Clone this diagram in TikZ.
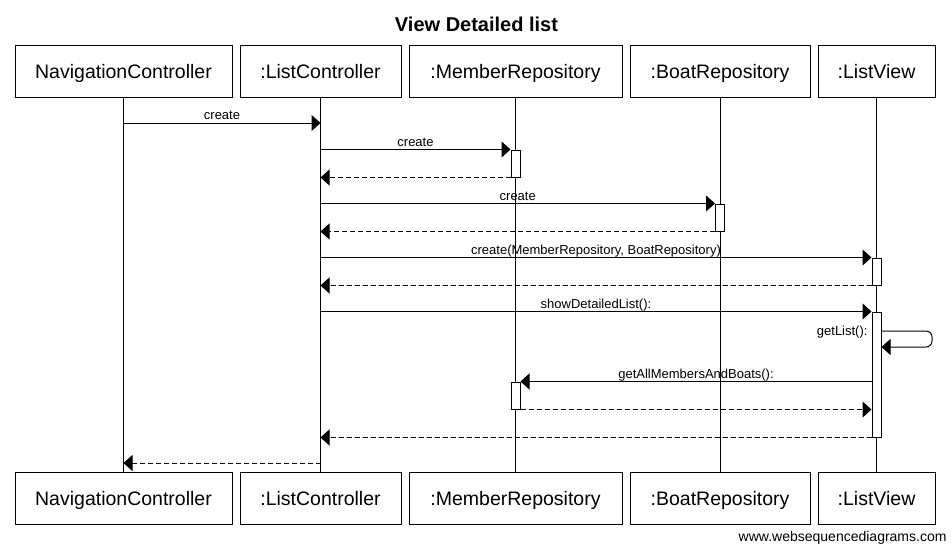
\documentclass[tikz,border=0pt]{standalone}
\usepackage{fontspec}
\setmainfont{Liberation Sans}
\usetikzlibrary{arrows.meta}

\begin{document}
\begin{tikzpicture}[x=1pt, y=-1pt, line width=1pt,
  actor/.style={draw, minimum height=52pt, inner sep=0pt, text height=14pt, text depth=0pt, font=\fontsize{19.5}{23}\selectfont},
  act/.style={draw, fill=white, minimum width=9pt, inner sep=0pt},
  msg/.style={-{Triangle[length=9pt, width=16pt]}},
  ret/.style={msg, dash pattern=on 5pt off 3pt},
  lbl/.style={above, inner xsep=2pt, inner ysep=3pt, text depth=0pt, font=\fontsize{13}{15}\selectfont}]
\useasboundingbox (0,0) rectangle (952,547);
\node[font=\bfseries\fontsize{20}{24}\selectfont] (title) at (476.5,24.5) {View Detailed list};
% participants, top and bottom
\node[actor, minimum width=217pt] (navT) at (123.5,71) {NavigationController};
\node[actor, minimum width=161pt] (listT) at (320.5,71) {:ListController};
\node[actor, minimum width=213pt] (memT) at (515.5,71) {:MemberRepository};
\node[actor, minimum width=180pt] (boatT) at (720,71) {:BoatRepository};
\node[actor, minimum width=117pt] (viewT) at (876.5,71) {:ListView};
\node[actor, minimum width=217pt] (navB) at (123.5,498) {NavigationController};
\node[actor, minimum width=161pt] (listB) at (320.5,498) {:ListController};
\node[actor, minimum width=213pt] (memB) at (515.5,498) {:MemberRepository};
\node[actor, minimum width=180pt] (boatB) at (720,498) {:BoatRepository};
\node[actor, minimum width=117pt] (viewB) at (876.5,498) {:ListView};
\foreach \p in {nav,list,mem,boat,view}
  \draw (\p T) -- (\p B);
% activations
\node[act, minimum height=27pt] (memA1) at (515.5,163.5) {};
\node[act, minimum height=27pt] (boatA1) at (720,217.5) {};
\node[act, minimum height=27pt] (viewA1) at (876.5,271.5) {};
\node[act, minimum height=125pt] (viewA2) at (876.5,374.5) {};
\node[act, minimum height=27pt] (memA2) at (515.5,395.5) {};
% messages
\draw[msg] (navT |- 0,123) -- node[lbl] {create} (listT |- 0,123);
\draw[msg] (listT |- memA1.north) -- node[lbl] {create} (memA1.north west);
\draw[ret] (memA1.south west) -- (listT |- memA1.south);
\draw[msg] (listT |- boatA1.north) -- node[lbl] {create} (boatA1.north west);
\draw[ret] (boatA1.south west) -- (listT |- boatA1.south);
\draw[msg] (listT |- viewA1.north) -- node[lbl] {create(MemberRepository, BoatRepository)} (viewA1.north west);
\draw[ret] (viewA1.south west) -- (listT |- viewA1.south);
\draw[msg] (listT |- viewA2.north) -- node[lbl] {showDetailedList():} (viewA2.north west);
\draw[msg, rounded corners=6pt] (viewA2.east |- 0,331) -- (932,331) |- (viewA2.east |- 0,347);
\node[anchor=east, inner sep=0pt, font=\fontsize{13}{15}\selectfont] (getlist) at (868,332) {getList():};
\draw[msg] (viewA2.west |- memA2.north) -- node[lbl] {getAllMembersAndBoats():} (memA2.north east);
\draw[ret] (memA2.south east) -- (viewA2.west |- memA2.south);
\draw[ret] (viewA2.south west) -- (listT |- viewA2.south);
\draw[ret] (listT |- 0,463) -- (navT |- 0,463);
\node[anchor=east, inner sep=0pt, font=\fontsize{14}{16}\selectfont] (credit) at (947,538) {www.websequencediagrams.com};
\end{tikzpicture}
\end{document}
